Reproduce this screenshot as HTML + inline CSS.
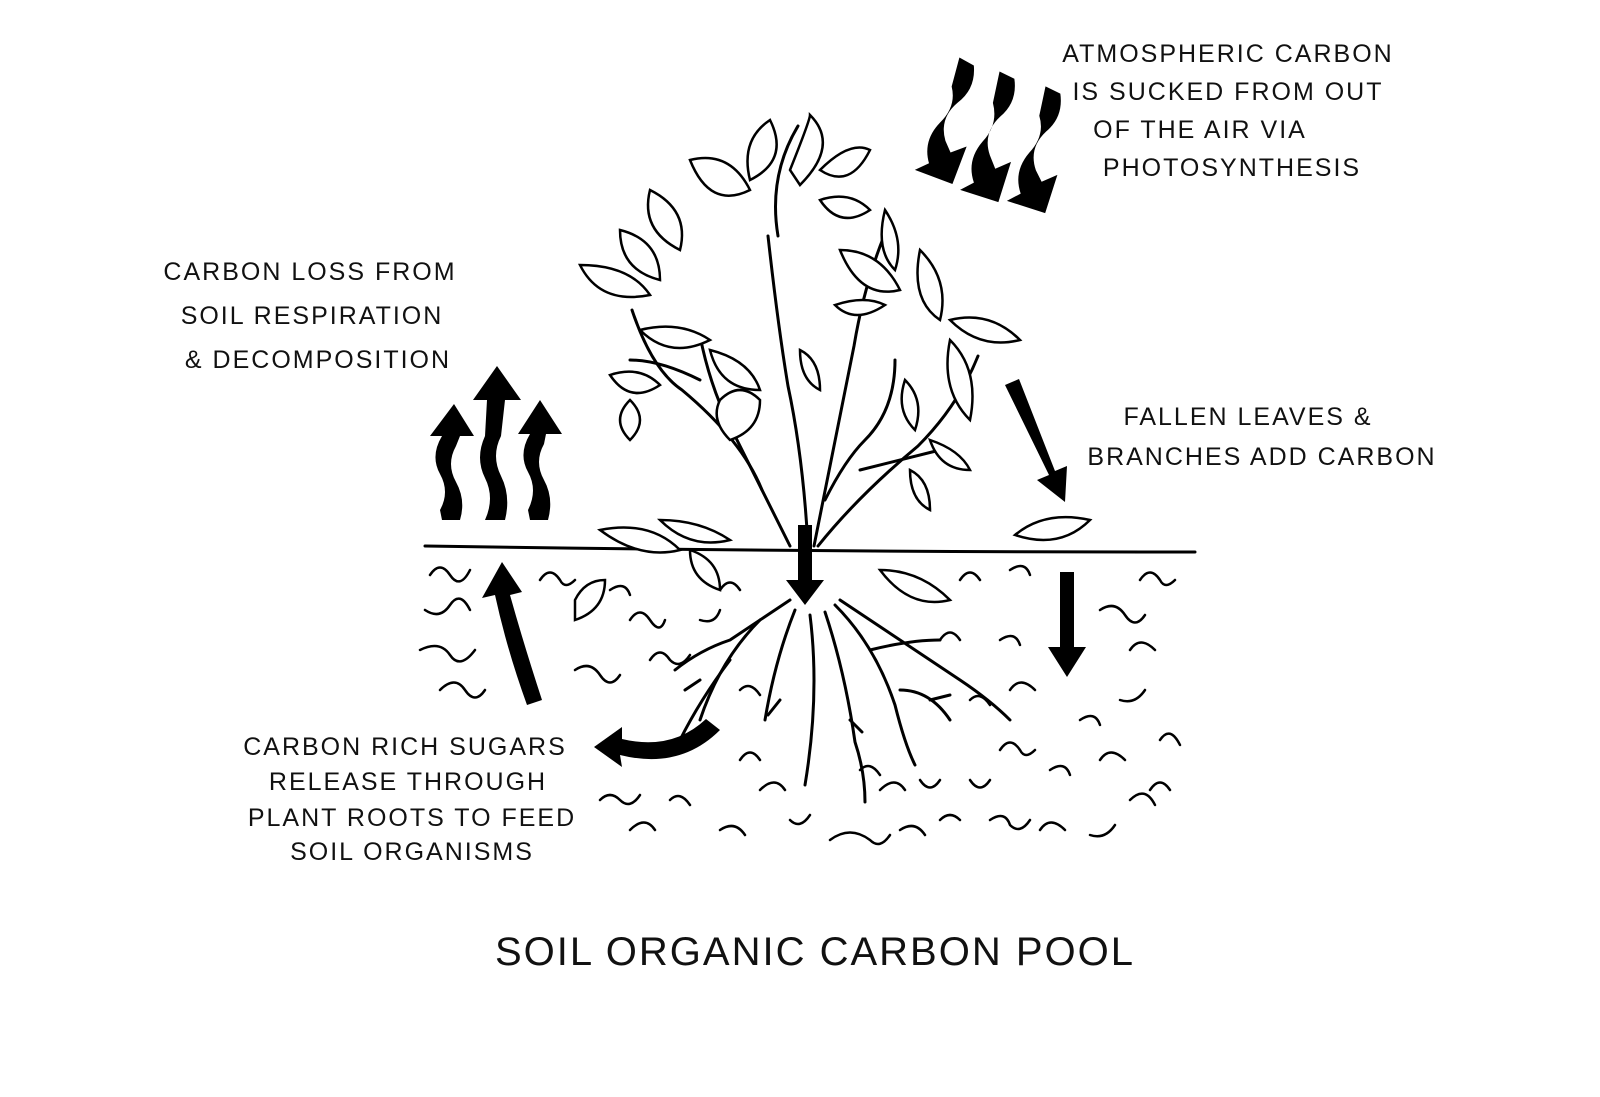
<!DOCTYPE html>
<html><head><meta charset="utf-8"><style>
html,body{margin:0;padding:0;background:#fff}
svg{display:block}
text{font-family:"Liberation Sans",sans-serif;fill:#111;letter-spacing:2px}
.s{fill:none;stroke:#000;stroke-width:3;stroke-linecap:round;stroke-linejoin:round}
.q{fill:none;stroke:#000;stroke-width:2.5;stroke-linecap:round}
.lf{fill:#fff;stroke:#000;stroke-width:2.5}
</style></head><body>
<svg width="1600" height="1097" viewBox="0 0 1600 1097">
<g font-size="25" text-anchor="middle">
<text x="1228" y="62">ATMOSPHERIC CARBON</text>
<text x="1228" y="100">IS SUCKED FROM OUT</text>
<text x="1200" y="138">OF THE AIR VIA</text>
<text x="1232" y="176">PHOTOSYNTHESIS</text>
<text x="310" y="280">CARBON LOSS FROM</text>
<text x="312" y="324">SOIL RESPIRATION</text>
<text x="318" y="368">&amp; DECOMPOSITION</text>
<text x="1248" y="425">FALLEN LEAVES &amp;</text>
<text x="1262" y="465">BRANCHES ADD CARBON</text>
<text x="405" y="755">CARBON RICH SUGARS</text>
<text x="408" y="790">RELEASE THROUGH</text>
<text x="412" y="826">PLANT ROOTS TO FEED</text>
<text x="412" y="860">SOIL ORGANISMS</text>
</g>
<text x="815" y="965" font-size="40" text-anchor="middle" letter-spacing="3">SOIL ORGANIC CARBON POOL</text>

<path class="s" d="M425 546 Q800 552 1195 552"/>

<g fill="#000">
<path d="M940 55 l16 4 q8 22 -6 40 q-14 20 -2 40 l8 10 l14 -10 l-4 40 l-40 -4 l12 -10 q-12 -20 0 -42 q12 -20 2 -38z" transform="rotate(15 940 130)"/>
<path d="M985 70 l16 4 q8 22 -6 40 q-14 20 -2 40 l8 12 l14 -10 l-4 42 l-40 -4 l12 -10 q-12 -20 0 -42 q12 -20 2 -40z" transform="rotate(12 985 140)"/>
<path d="M1032 85 l16 4 q8 22 -6 40 q-14 20 -2 40 l8 10 l14 -10 l-4 40 l-40 -4 l12 -10 q-12 -20 0 -42 q12 -20 2 -38z" transform="rotate(12 1032 150)"/>
<path d="M442 520 l18 0 q6 -20 -4 -38 q-10 -18 0 -36 l4 -10 l14 0 l-20 -32 l-24 32 l12 0 q-12 20 -2 38 q10 18 0 36z"/>
<path d="M486 520 l19 0 q6 -24 -4 -44 q-10 -20 0 -40 l4 -36 l16 0 l-24 -34 l-24 34 l14 0 l-2 36 q-10 22 0 42 q10 20 0 42z"/>
<path d="M530 520 l18 0 q6 -22 -4 -40 q-10 -18 0 -36 l2 -10 l16 0 l-22 -34 l-22 34 l12 0 q-12 20 -2 38 q10 18 0 38z"/>
<path d="M1005 385 l14 -6 l36 92 l12 -5 l-2 36 l-28 -22 l12 -5z"/>
<path d="M798 525 h14 v55 h12 l-19 25 l-19 -25 h12z"/>
<path d="M1060 572 h14 v75 h12 l-19 30 l-19 -30 h12z"/>
<path d="M542 700 q-18 -55 -32 -105 l12 -3 l-20 -30 l-20 36 l13 -3 q12 55 32 110z"/>
<path d="M720 730 q-40 40 -100 25 l2 12 l-28 -20 l28 -20 l0 12 q50 12 84 -20z"/>
</g>

<g class="s">
<path d="M790 546 q-30 -60 -60 -120 q-20 -40 -30 -90"/>
<path d="M808 546 q-5 -90 -20 -160 q-10 -60 -20 -150"/>
<path d="M814 546 q20 -100 40 -200 q10 -60 30 -110"/>
<path d="M818 546 q40 -50 100 -100 q40 -40 60 -90"/>
<path d="M762 490 q-20 -50 -80 -100 q-30 -20 -50 -80"/>
<path d="M825 500 q20 -40 40 -60 q30 -30 30 -80"/>
<path d="M860 470 q40 -10 80 -20"/>
<path d="M778 236 q-10 -60 20 -110"/>
<path d="M700 380 q-40 -20 -70 -20"/>
</g>
<g class="lf">
<path d="M690 160 q40 -10 60 30 q-40 20 -60 -30z"/>
<path d="M750 180 q-10 -40 20 -60 q20 40 -20 60z"/>
<path d="M790 170 q20 -50 20 -55 q30 30 -10 70z"/>
<path d="M820 170 q30 -30 50 -20 q-20 40 -50 20z"/>
<path d="M820 200 q30 -10 50 10 q-30 20 -50 -10z"/>
<path d="M650 190 q40 20 30 60 q-40 -20 -30 -60z"/>
<path d="M580 265 q50 0 70 30 q-50 10 -70 -30z"/>
<path d="M620 230 q40 10 40 50 q-40 -10 -40 -50z"/>
<path d="M640 330 q40 -10 70 10 q-40 20 -70 -10z"/>
<path d="M610 375 q30 -10 50 10 q-30 20 -50 -10z"/>
<path d="M630 400 q20 20 0 40 q-20 -20 0 -40z"/>
<path d="M710 350 q40 10 50 40 q-40 0 -50 -40z"/>
<path d="M720 400 q20 -20 40 0 q0 30 -30 40 q-20 -20 -10 -40z"/>
<path d="M800 350 q20 10 20 40 q-20 -10 -20 -40z"/>
<path d="M840 250 q40 0 60 40 q-40 10 -60 -40z"/>
<path d="M885 210 q20 30 10 60 q-20 -20 -10 -60z"/>
<path d="M835 305 q30 -10 50 0 q-30 20 -50 0z"/>
<path d="M920 250 q30 30 20 70 q-30 -20 -20 -70z"/>
<path d="M950 320 q40 -10 70 20 q-40 10 -70 -20z"/>
<path d="M950 340 q30 30 20 80 q-30 -30 -20 -80z"/>
<path d="M905 380 q20 20 10 50 q-20 -20 -10 -50z"/>
<path d="M930 440 q30 10 40 30 q-30 0 -40 -30z"/>
<path d="M910 470 q20 10 20 40 q-20 -10 -20 -40z"/>
<path d="M600 530 q50 -10 80 20 q-40 10 -80 -20z"/>
<path d="M660 520 q40 0 70 20 q-40 10 -70 -20z"/>
<path d="M690 550 q30 10 30 40 q-30 -10 -30 -40z"/>
<path d="M1015 535 q30 -25 75 -15 q-30 30 -75 15z"/>
<path d="M880 570 q40 0 70 30 q-40 10 -70 -30z"/>
<path d="M575 600 q10 -20 30 -20 q0 30 -30 40z"/>
</g>
<g class="s">
<path d="M790 600 q-30 20 -60 40 q-30 10 -55 30"/>
<path d="M760 620 q-40 40 -60 100"/>
<path d="M795 610 q-20 50 -30 110"/>
<path d="M810 615 q10 80 -5 170"/>
<path d="M825 612 q20 60 30 130 q10 30 10 60"/>
<path d="M835 605 q40 40 60 100 q10 40 20 60"/>
<path d="M840 600 q60 40 120 80 q30 20 50 40"/>
<path d="M870 650 q40 -10 70 -10"/>
<path d="M730 660 q-30 40 -50 80"/>
<path d="M900 690 q30 0 50 30"/>
<path d="M700 680 l-15 10 M780 700 l-12 15 M850 720 l12 12 M930 700 l20 -5"/>
</g>
<g class="q">
<path d="M430 575 q10 -15 20 0 q10 15 20 -5 M425 610 q15 10 25 -5 q10 -15 20 5 M420 650 q20 -10 30 5 q10 15 25 -5 M440 690 q15 -15 25 0 q10 15 20 0"/>
<path d="M540 580 q10 -15 20 0 q5 10 15 0 M610 590 q15 -10 20 5 M630 620 q10 -15 20 0 q10 15 15 0 M575 670 q15 -10 25 5 q10 15 20 0 M720 590 q10 -15 20 0 M700 620 q15 5 20 -10 M650 660 q10 -15 20 0 q10 10 20 -5 M740 690 q10 -10 20 5"/>
<path d="M600 800 q10 -10 20 0 q10 10 20 -5 M630 830 q15 -15 25 0 M670 800 q10 -10 20 5 M720 830 q15 -10 25 5 M760 790 q15 -15 25 0 M790 820 q10 10 20 -5 M830 840 q20 -15 40 0 q10 10 20 -5 M880 790 q15 -15 25 0 M920 780 q10 15 20 0 M900 830 q15 -10 25 5 M740 760 q10 -15 20 0 M860 770 q10 -10 20 5 M940 820 q10 -10 20 0"/>
<path d="M960 580 q10 -15 20 0 M1010 570 q15 -10 20 5 M1140 580 q10 -15 20 0 q5 10 15 0 M1100 610 q15 -10 25 5 q10 15 20 0 M1130 650 q10 -15 25 0 M1000 640 q15 -10 20 5 M1010 690 q10 -15 25 0 M1120 700 q15 5 25 -10 M1160 740 q10 -15 20 5 M1080 720 q15 -10 20 5 M940 640 q10 -15 20 0 M970 700 q10 -10 20 5"/>
<path d="M1000 750 q10 -15 20 0 q5 10 15 0 M1050 770 q15 -10 20 5 M1100 760 q10 -15 25 0 M1150 790 q10 -15 20 0 M990 820 q15 -10 20 5 q10 10 20 -5 M1040 830 q10 -15 25 0 M1090 835 q15 5 25 -10 M1130 800 q15 -15 25 5 M970 780 q10 15 20 0"/>
</g>
</svg>
</body></html>
